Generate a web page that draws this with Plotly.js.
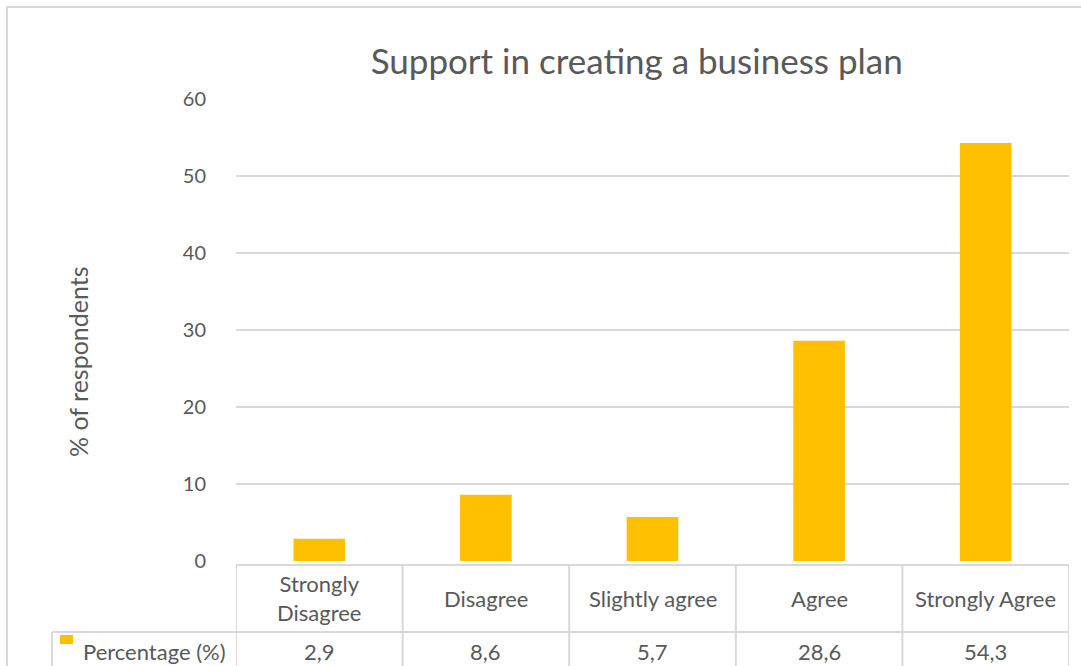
<!DOCTYPE html>
<html>
<head>
<meta charset="utf-8">
<script src="https://cdn.plot.ly/plotly-3.0.1.min.js"></script>
<style>html,body{margin:0;padding:0;background:#fff;}#chart{width:1081px;height:666px;}</style>
</head>
<body>
<div id="chart"></div>
<script>
var categories = ["Strongly Disagree", "Disagree", "Slightly agree", "Agree", "Strongly Agree"];
var headerLabels = ["Strongly<br>Disagree", "Disagree", "Slightly agree", "Agree", "Strongly Agree"];
var percentages = [2.9, 8.6, 5.7, 28.6, 54.3];
var seriesName = "Percentage (%)";
var chartTitle = "Support in creating a business plan";
var yTitle = "% of respondents";

var W = 1081, H = 666;
var L = 236, R = 1069, T = 99, B = 561;
var pw = R - L, ph = B - T;
function px(x){ return (x - L) / pw; }
function py(y){ return (B - y) / ph; }

var gold = "#FFC000", txt = "#595959", grid = "#d9d9d9";
var font = "Lato, 'Open Sans', sans-serif";

var xIdx = categories.map(function(_, i){ return i; });

var trace = {
  type: "bar",
  x: xIdx,
  y: percentages,
  marker: {color: gold},
  name: seriesName,
  hoverinfo: "skip"
};

var shapes = [];
var line = {color: grid, width: 2};
shapes.push({type: "rect", xref: "paper", yref: "paper", x0: px(7), x1: px(1100), y0: py(7), y1: py(700), line: {color: grid, width: 2}, layer: "below"});
shapes.push({type: "line", xref: "x", yref: "paper", x0: -0.5, x1: categories.length - 0.5, y0: py(565), y1: py(565), line: line});
shapes.push({type: "line", xref: "paper", yref: "paper", x0: px(52), x1: 1, y0: py(632), y1: py(632), line: line});
for (var i = 0; i <= categories.length; i++) {
  shapes.push({type: "line", xref: "x", yref: "paper", x0: i - 0.5, x1: i - 0.5, y0: py(565), y1: py(700), line: line});
}
shapes.push({type: "line", xref: "paper", yref: "paper", x0: px(52), x1: px(52), y0: py(632), y1: py(700), line: line});
shapes.push({type: "rect", xref: "paper", yref: "paper", x0: px(60), x1: px(73), y0: py(635), y1: py(644), fillcolor: gold, line: {width: 0}});

var cellFont = {family: font, size: 22, color: txt};
var annotations = [];
categories.forEach(function(c, i){
  annotations.push({xref: "x", yref: "paper", x: i, y: py(598), text: headerLabels[i], showarrow: false,
    font: cellFont, xanchor: "center", yanchor: "middle", align: "center"});
  annotations.push({xref: "x", yref: "paper", x: i, y: py(651), text: percentages[i].toFixed(1).replace(".", ","), showarrow: false,
    font: cellFont, xanchor: "center", yanchor: "middle"});
});
annotations.push({xref: "paper", yref: "paper", x: px(81), y: py(651), text: seriesName, showarrow: false,
  font: cellFont, xanchor: "left", yanchor: "middle"});
annotations.push({xref: "paper", yref: "paper", x: px(78), y: py(362), text: yTitle, showarrow: false, textangle: -90,
  font: {family: font, size: 25, color: txt}, xanchor: "center", yanchor: "middle"});

var layout = {
  width: W, height: H,
  margin: {l: L, r: W - R, t: T, b: H - B, pad: 0},
  paper_bgcolor: "#fff", plot_bgcolor: "#fff",
  showlegend: false,
  bargap: 0.69,
  title: {text: chartTitle, font: {family: font, size: 35, color: txt}, x: 0.589, xanchor: "center", y: 1 - 62 / H, yanchor: "middle"},
  xaxis: {range: [-0.5, categories.length - 0.5], showticklabels: false, showgrid: false, zeroline: false, showline: false, ticks: "", fixedrange: true},
  yaxis: {range: [0, 60], dtick: 10, tick0: 0, showgrid: true, gridcolor: grid, gridwidth: 2, zeroline: false, showline: false,
    ticks: "", ticklabelstandoff: 29, tickfont: {family: font, size: 20, color: txt}},
  shapes: shapes,
  annotations: annotations
};

Plotly.newPlot("chart", [trace], layout, {displayModeBar: false, staticPlot: true});
</script>
</body>
</html>
